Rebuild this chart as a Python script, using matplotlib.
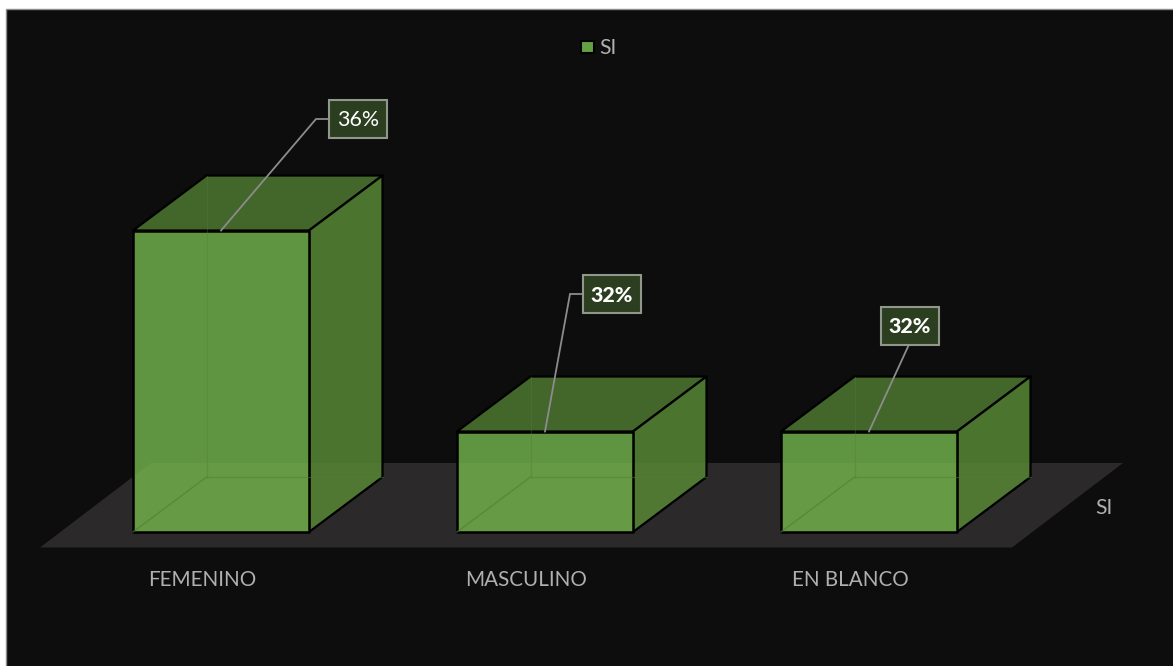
import matplotlib
matplotlib.use("Agg")
import matplotlib.pyplot as plt
from matplotlib.patches import Polygon, Rectangle

categories = ["FEMENINO", "MASCULINO", "EN BLANCO"]
values = [36, 32, 32]
labels = ["36%", "32%", "32%"]
bold_flags = [False, True, True]
series_name = "SI"

W, H = 1173, 666
plt.rcParams["font.family"] = "Lato"
fig = plt.figure(figsize=(W / 100, H / 100), dpi=100, facecolor="white")
ax = fig.add_axes([0, 0, 1, 1])

# Layout: category spacing and value scale in pixels
X0, DX, BASE_PX, PX_PER_UNIT, YMIN = 221.0, 324.0, 532.0, 50.25, 30.0
ax.set_xlim((0 - X0) / DX, (W - X0) / DX)
ax.set_ylim(YMIN - (H - BASE_PX) / PX_PER_UNIT, YMIN + BASE_PX / PX_PER_UNIT)
ax.axis("off")

def ux(px):
    return px / DX

def uy(px):
    return px / PX_PER_UNIT

def xp(px):
    return (px - X0) / DX

def yp(px):
    return YMIN + (BASE_PX - px) / PX_PER_UNIT

def poly(pts, **kw):
    p = Polygon(pts, closed=True, **kw)
    ax.add_patch(p)
    return p

# Chart background
ax.add_patch(Rectangle((xp(5.5), yp(H + 5)), ux(W + 10), uy(H + 5 - 8.5),
                       fc="#0d0d0d", ec="#8c8c8c", lw=1.0, zorder=0))

# Floor
poly([(xp(40), yp(547.5)), (xp(1012), yp(547.5)), (xp(1123), yp(463)), (xp(151), yp(463))],
     fc="#2b292a", ec="none", zorder=1)

HALF = ux(88)
DEPTH_X, DEPTH_Y = ux(73.5), uy(55)
BOX_W = ux(58)
BOX_H = uy(38)

boxes = [
    (xp(329), yp(138), (xp(316), yp(119)), (xp(329), yp(119))),
    (xp(583), yp(313), (xp(570), yp(294)), (xp(583), yp(294))),
    (xp(880.5), yp(344.5), None, (xp(909), yp(344.5))),
]
label_centers = [xp(202.5), xp(526.5), xp(850.5)]

for i, (cat, v) in enumerate(zip(categories, values)):
    l, r = i - HALF, i + HALF
    b, t = YMIN, v
    # Top
    poly([(l, t), (r, t), (r + DEPTH_X, t + DEPTH_Y), (l + DEPTH_X, t + DEPTH_Y)],
         fc="#43662b", ec="black", lw=1.6, joinstyle="round", zorder=3)
    # Side
    poly([(r, b), (r + DEPTH_X, b + DEPTH_Y), (r + DEPTH_X, t + DEPTH_Y), (r, t)],
         fc=(87 / 255, 135 / 255, 53 / 255, 0.85), ec="black", lw=1.6, joinstyle="round", zorder=3)
    # Front
    poly([(l, b), (r, b), (r, t), (l, t)],
         fc=(117 / 255, 183 / 255, 77 / 255, 0.80), ec="black", lw=1.8, joinstyle="round", zorder=4)
    # Interior edges seen through the translucent box
    ax.plot([l + DEPTH_X, l + DEPTH_X], [b + DEPTH_Y, t + DEPTH_Y], color="#4f8032", lw=0.9, alpha=0.35, zorder=4.5)
    ax.plot([l + DEPTH_X, r + DEPTH_X], [b + DEPTH_Y, b + DEPTH_Y], color="#4f8032", lw=0.9, alpha=0.5, zorder=4.5)
    ax.plot([l, l + DEPTH_X], [b, b + DEPTH_Y], color="#4f8032", lw=0.9, alpha=0.7, zorder=4.5)
    # Category label
    ax.text(label_centers[i], yp(580), cat, color="#b0b0b0", fontsize=14.9,
            ha="center", va="center", zorder=6)

# Data labels and leaders
for i, (lab, bold, (bx, by, elbow, end)) in enumerate(zip(labels, bold_flags, boxes)):
    px = [i] + ([elbow[0]] if elbow else []) + [end[0]]
    py = [values[i]] + ([elbow[1]] if elbow else []) + [end[1]]
    ax.plot(px, py, color="#8c8c8c", lw=1.3, zorder=5, solid_joinstyle="miter")
    ax.add_patch(Rectangle((bx, by), BOX_W, BOX_H, fc="#2c3e20", ec="#8f988a", lw=1.5, zorder=7))
    ax.text(bx + BOX_W / 2, by + BOX_H / 2 - uy(1.0), lab, color="white", fontsize=15.4,
            fontweight=900 if bold else "normal", ha="center", va="center", zorder=8)

# Depth axis label
ax.text(xp(1104), yp(508), series_name, color="#b0b0b0", fontsize=15.2, ha="center", va="center", zorder=6)

# Legend
ax.add_patch(Rectangle((xp(581), yp(52.5)), ux(12.5), uy(12), fc="#65a043", ec="black", lw=1.5, zorder=6))
ax.text(xp(599), yp(47.5), series_name, color="#b0b0b0", fontsize=15.2, ha="left", va="center", zorder=6)

fig.savefig("out.png", dpi=100, facecolor="white")
